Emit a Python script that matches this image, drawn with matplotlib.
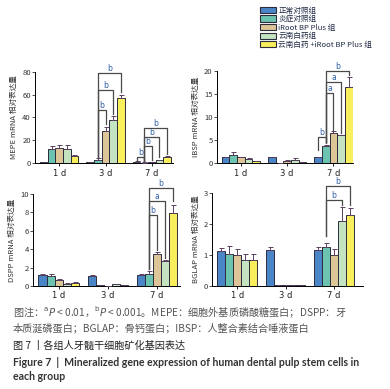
import matplotlib
matplotlib.use("Agg")
import matplotlib.pyplot as plt
from matplotlib.patches import Patch
import numpy as np

plt.rcParams['font.family'] = ['Noto Sans CJK SC', 'DejaVu Sans']

# groups and time points
groups = ["正常对照组", "炎症对照组", "iRoot BP Plus 组", "云南白药组", "云南白药 +iRoot BP Plus 组"]
days = ["1 d", "3 d", "7 d"]
colors = ["#4a85c8", "#6cc4b0", "#dcc697", "#c3e3c1", "#f9ef5c"]

# values per gene: rows = days, cols = groups
mepe = [[1.0, 12, 13, 12, 6], [1.0, 3, 28, 38, 57], [1.2, 0.3, 1.0, 2.5, 5.5]]
mepe_err = [[0, 3, 3, 4, 1], [0.3, 1, 4, 3, 3], [0.2, 0.2, 0.3, 0.5, 0.5]]

ibsp = [[1.2, 1.8, 1.3, 0.9, 0.4], [1.2, 0.0, 0.5, 0.7, 0.3], [1.2, 3.6, 6.5, 6.0, 16.5]]
ibsp_err = [[0, 0.5, 0.1, 0.1, 0.1], [0, 0, 0.1, 0.3, 0], [0, 0.3, 0.4, 0.2, 2.3]]

dspp = [[1.2, 1.1, 0.65, 0.25, 0.3], [1.1, 0.1, 0.02, 0.2, 0.1], [1.2, 1.3, 3.5, 2.7, 7.9]]
dspp_err = [[0.05, 0.2, 0.15, 0.05, 0.15], [0.05, 0, 0, 0.05, 0], [0.05, 0.35, 0.2, 0.1, 0.9]]

bglap = [[1.13, 1.03, 1.0, 0.83, 0.83], [1.17, 0.02, 0.02, 0.02, 0.02], [1.15, 1.27, 1.0, 2.1, 2.3]]
bglap_err = [[0.1, 0.25, 0.2, 0.2, 0.2], [0.08, 0, 0, 0, 0], [0.1, 0.13, 0.18, 0.45, 0.22]]

# brackets: (day, group_left, group_right, height, left_bottom, right_bottom, label)
mepe_br = [(1, 1, 2, 47, 4, 34, "b"), (1, 1, 3, 64, 4, 43, "b"), (1, 1, 4, 79, 4, 62, "b"),
           (2, 0, 1, 5, 2, 2, "b"), (2, 1, 2, 15, 2, 3, "b"), (2, 1, 3, 23, 2, 5, "b"),
           (2, 1, 4, 31, 2, 8, "b")]
ibsp_br = [(2, 0, 1, 5.7, 2.8, 4.3, "b"), (2, 1, 2, 15.2, 4.5, 7.2, "a"),
           (2, 1, 3, 17.6, 4.5, 6.6, "a"), (2, 1, 4, 20.1, 4.5, 19.2, "b")]
dspp_br = [(2, 1, 2, 7.7, 1.8, 3.9, "b"), (2, 1, 3, 9.3, 1.8, 3.0, "a"),
           (2, 1, 4, 10.7, 1.8, 9.2, "b")]
bglap_br = [(2, 1, 3, 2.77, 1.6, 2.6, "b"), (2, 1, 4, 3.23, 1.6, 2.6, "b")]

W = 0.165


def panel(rect, vals, errs, ymax, yticks, ylabel, brackets, xmax):
    ax = fig.add_axes(rect)
    vals = np.array(vals)
    errs = np.array(errs)
    x = np.arange(len(days))
    for i in range(len(groups)):
        xs = x + (i - 2) * W
        ax.bar(xs, vals[:, i], W, color=colors[i], edgecolor="#2c2c3c", linewidth=0.7, zorder=2)
        ax.errorbar(xs, vals[:, i], yerr=[np.zeros(3), errs[:, i]], fmt="none",
                    ecolor="#5a4060", elinewidth=0.7, capsize=1.8, capthick=0.7, zorder=3)
    for d, g1, g2, h, b1, b2, lab in brackets:
        x1 = d + (g1 - 2) * W
        x2 = d + (g2 - 2) * W
        ax.plot([x1, x1, x2, x2], [b1, h, h, b2], color="#4a4a4a", lw=0.9, clip_on=False, zorder=4)
        ax.text((x1 + x2) / 2, h, lab, ha="center", va="bottom",
                fontsize=5.5, color="#2f5fa8", clip_on=False, family="DejaVu Sans")
    ax.set_xlim(-0.52, xmax)
    ax.set_ylim(0, ymax)
    ax.set_yticks(yticks)
    ax.set_xticks(x)
    ax.set_xticklabels(days, fontsize=6, color="#222222", family="DejaVu Sans")
    ax.tick_params(axis="y", labelsize=5.5, length=2, width=0.6, pad=1, colors="#333333")
    ax.tick_params(axis="x", length=2, width=0.6, pad=2)
    for s in ["top", "right"]:
        ax.spines[s].set_visible(False)
    for s in ["left", "bottom"]:
        ax.spines[s].set_linewidth(0.7)
    ax.set_ylabel(ylabel, fontsize=5.5, color="#333333", labelpad=3)
    return ax


fig = plt.figure(figsize=(3.9, 3.89), dpi=100)

panel([0.09, 0.581, 0.354, 0.234], mepe, mepe_err, 80, [0, 20, 40, 60, 80],
      "MEPE mRNA 相对表达量", mepe_br, 2.46)
panel([0.556, 0.581, 0.35, 0.236], ibsp, ibsp_err, 20, [0, 5, 10, 15, 20],
      "IBSP mRNA 相对表达量", ibsp_br, 2.43)
panel([0.085, 0.265, 0.377, 0.236], dspp, dspp_err, 10, [0, 2, 4, 6, 8, 10],
      "DSPP mRNA 相对表达量", dspp_br, 2.47)
panel([0.544, 0.265, 0.386, 0.239], bglap, bglap_err, 3, [0, 1, 2, 3],
      "BGLAP mRNA 相对表达量", bglap_br, 2.6)

handles = [Patch(facecolor=c, edgecolor="#2c2c3c", linewidth=0.8) for c in colors]
fig.legend(handles, groups, loc="upper left", bbox_to_anchor=(0.655, 0.995), frameon=False,
           fontsize=5.5, handlelength=2.1, handleheight=0.85, handletextpad=0.3,
           labelspacing=0.08, borderpad=0.1, labelcolor="#1f2a44")

# caption
fig.text(0.033, 0.198, r"图注：$^{\mathrm{a}}P$ < 0.01，$^{\mathrm{b}}P$ < 0.001。MEPE：细胞外基质磷酸糖蛋白；DSPP：牙",
         fontsize=7.3, color="#555555", va="center")
fig.text(0.033, 0.157, "本质涎磷蛋白；BGLAP：骨钙蛋白；IBSP：人整合素结合唾液蛋白",
         fontsize=7.3, color="#555555", va="center")
fig.text(0.033, 0.111, "图 7 丨各组人牙髓干细胞矿化基因表达", fontsize=7.3, color="#222222", va="center")
fig.text(0.033, 0.069, "Figure 7  |  Mineralized gene expression of human dental pulp stem cells in",
         fontsize=7.6, color="#333333", va="center", family="Lato", weight="bold")
fig.text(0.033, 0.031, "each group", fontsize=7.6, color="#333333", va="center",
         family="Lato", weight="bold")

fig.savefig("out.png", dpi=100)
